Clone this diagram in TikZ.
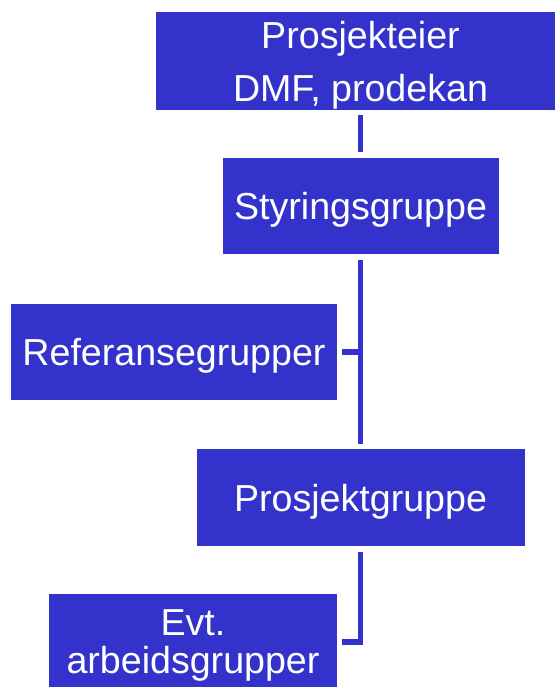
\documentclass[tikz,border=0pt]{standalone}
\usepackage{fontspec}
\setmainfont{Liberation Sans}
\definecolor{orgblue}{RGB}{51,51,204}
\usetikzlibrary{calc}

\begin{document}
\begin{tikzpicture}[x=1pt,y=-1pt,
  unit/.style={fill=orgblue,text=white,inner sep=0pt,align=center,text depth=0pt,font=\fontsize{37.6}{44}\selectfont},
  oneline/.style={unit,text height=27pt},
  link/.style={draw=orgblue,line width=5.5pt}]
  \useasboundingbox (0,0) rectangle (554,687);
  \node[unit,minimum width=410pt,minimum height=98pt,font=\fontsize{37.6}{53}\selectfont] (owner) at (360.5,61) {Prosjekteier\\DMF, prodekan};
  \node[oneline,minimum width=276pt,minimum height=96pt] (steer) at (360.5,206) {Styringsgruppe};
  \node[oneline,minimum width=326pt,minimum height=96pt] (refgroup) at (174,352) {Referansegrupper};
  \node[oneline,minimum width=328pt,minimum height=97pt] (projgroup) at (360.5,497.5) {Prosjektgruppe};
  \node[unit,minimum width=288pt,minimum height=97pt,font=\fontsize{37.6}{38}\selectfont] (workgroup) at (193,642) {Evt.\\arbeidsgrupper};
  \draw[link,shorten <=5pt,shorten >=6pt] (owner.south) -- (steer.north);
  \draw[link,shorten <=6pt,shorten >=5pt] (steer.south) -- (projgroup.north);
  \draw[link,shorten <=5pt] (refgroup.east) -- (refgroup.east -| steer.south);
  \draw[link,shorten <=6pt,shorten >=5pt] (projgroup.south) |- (workgroup.east);
\end{tikzpicture}
\end{document}
